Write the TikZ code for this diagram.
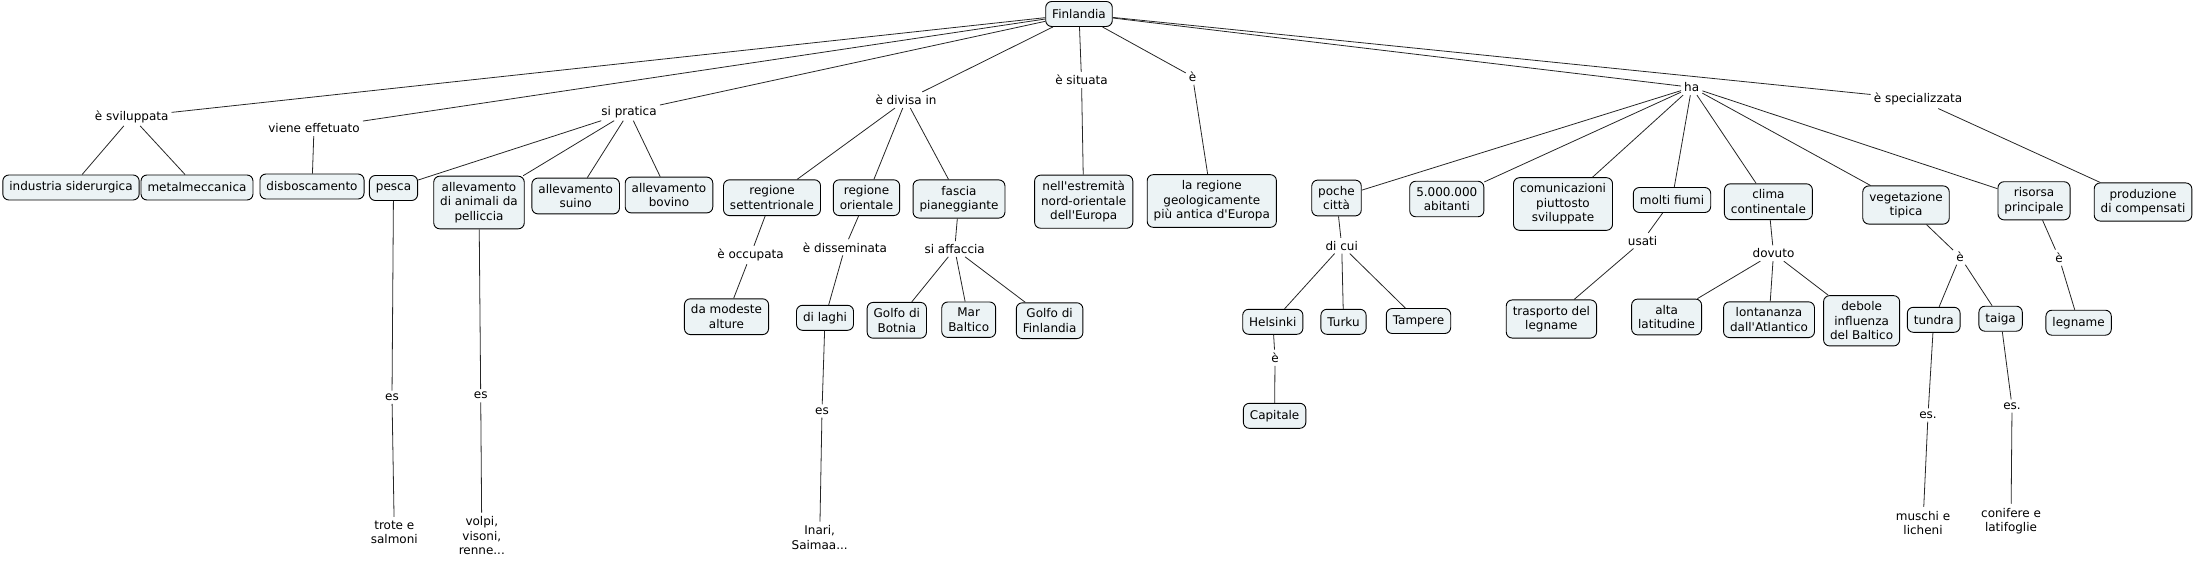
\documentclass[tikz,border=0pt]{standalone}
\usepackage{fontspec}
\setmainfont{DejaVu Sans}
\definecolor{boxfill}{RGB}{236,243,245}

\begin{document}
\begin{tikzpicture}[x=1pt,y=-1pt,
    every node/.style={font=\fontsize{12}{14.5}\selectfont,align=center},
    concept/.style={draw=black,fill=boxfill,rounded corners=6pt,line width=0.9pt,
      inner xsep=6.5pt,inner ysep=6pt,minimum height=25pt},
    plain/.style={inner sep=4pt},
    phrase/.style={inner sep=3pt},
    link/.style={black!85,line width=0.8pt}]
  \useasboundingbox (0,0) rectangle (2194,564);

  % concepts
  \node[concept] (fin) at (1079,14) {Finlandia};
  \node[concept] (indsid) at (71,187.5) {industria siderurgica};
  \node[concept] (metal) at (197,187.5) {metalmeccanica};
  \node[concept] (disbosc) at (312,186.5) {disboscamento};
  \node[concept] (pesca) at (393.5,188) {pesca};
  \node[concept] (pelliccia) at (479,202.5) {allevamento\\di animali da\\pelliccia};
  \node[concept] (suino) at (575.7,196) {allevamento\\suino};
  \node[concept] (bovino) at (669,195) {allevamento\\bovino};
  \node[concept] (regsett) at (772,197.7) {regione\\settentrionale};
  \node[concept] (regor) at (866.5,197.7) {regione\\orientale};
  \node[concept] (fascia) at (959,199) {fascia\\pianeggiante};
  \node[concept] (estrem) at (1083.7,201.7) {nell\textquotesingle estremità\\nord-orientale\\dell\textquotesingle Europa};
  \node[concept] (antica) at (1211.8,201) {la regione\\geologicamente\\più antica d\textquotesingle Europa};
  \node[concept] (citta) at (1336.5,198) {poche\\città};
  \node[concept] (abitanti) at (1446.8,199) {5.000.000\\abitanti};
  \node[concept] (comunic) at (1563,204) {comunicazioni\\piuttosto\\sviluppate};
  \node[concept] (fiumi) at (1672,200) {molti fiumi};
  \node[concept] (clima) at (1768.4,201.7) {clima\\continentale};
  \node[concept] (veget) at (1906,205) {vegetazione\\tipica};
  \node[concept] (risorsa) at (2034,200.8) {risorsa\\principale};
  \node[concept] (compens) at (2143,202) {produzione\\di compensati};
  \node[concept] (alture) at (726.5,316.7) {da modeste\\alture};
  \node[concept] (laghi) at (825,317.8) {di laghi};
  \node[concept] (botnia) at (896.8,320.3) {Golfo di\\Botnia};
  \node[concept] (baltico) at (968.7,319.7) {Mar\\Baltico};
  \node[concept] (golfofin) at (1049.6,320.7) {Golfo di\\Finlandia};
  \node[concept] (helsinki) at (1272.8,321.8) {Helsinki};
  \node[concept] (turku) at (1343.5,321.8) {Turku};
  \node[concept] (tampere) at (1418.5,321) {Tampere};
  \node[concept] (capitale) at (1274.6,415.8) {Capitale};
  \node[concept] (trasporto) at (1551.4,319) {trasporto del\\legname};
  \node[concept] (latitud) at (1666.6,317) {alta\\latitudine};
  \node[concept] (atlant) at (1769,319.7) {lontananza\\dall\textquotesingle Atlantico};
  \node[concept] (debole) at (1861.6,320.8) {debole\\influenza\\del Baltico};
  \node[concept] (tundra) at (1933.7,319.8) {tundra};
  \node[concept] (taiga) at (2000.6,318.7) {taiga};
  \node[concept] (legname) at (2078.6,322.7) {legname};

  % examples without box
  \node[plain] (trote) at (394.3,532.5) {trote e\\salmoni};
  \node[plain] (volpi) at (481.8,536) {volpi,\\visoni,\\renne...};
  \node[plain] (inari) at (819.7,537.7) {Inari,\\Saimaa...};
  \node[plain] (muschi) at (1923,523) {muschi e\\licheni};
  \node[plain] (conifere) at (2011,521) {conifere e\\latifoglie};

  % linking phrases
  \node[phrase] (sviluppata) at (131.7,116.7) {è sviluppata};
  \node[phrase] (effetuato) at (314,128.3) {viene effetuato};
  \node[phrase] (pratica) at (629,111.7) {si pratica};
  \node[phrase] (divisa) at (906,100) {è divisa in};
  \node[phrase] (situata) at (1081.5,80) {è situata};
  \node[phrase] (eantica) at (1192.6,76.7) {è};
  \node[phrase] (ha) at (1691.7,87.3) {ha};
  \node[phrase] (special) at (1918,99.3) {è specializzata};
  \node[phrase] (espesca) at (392,397.3) {es};
  \node[phrase] (espell) at (480.7,395.7) {es};
  \node[phrase] (occupata) at (750.5,255) {è occupata};
  \node[phrase] (dissem) at (845,247.3) {è disseminata};
  \node[phrase] (affaccia) at (954.7,249) {si affaccia};
  \node[phrase] (eslaghi) at (822,411) {es};
  \node[phrase] (dicui) at (1341.7,245.7) {di cui};
  \node[phrase] (ehel) at (1275,357.7) {è};
  \node[phrase] (usati) at (1642.6,240.7) {usati};
  \node[phrase] (dovuto) at (1773.5,253.3) {dovuto};
  \node[phrase] (eveget) at (1960,256.7) {è};
  \node[phrase] (erisorsa) at (2059,257.7) {è};
  \node[phrase] (estundra) at (1928,415) {es.};
  \node[phrase] (estaiga) at (2012,406) {es.};

  % links
  \foreach \p in {sviluppata,effetuato,pratica,divisa,situata,eantica,ha,special}
    \draw[link] (fin) -- (\p);
  \foreach \c in {indsid,metal} \draw[link] (sviluppata) -- (\c);
  \draw[link] (effetuato) -- (disbosc);
  \foreach \c in {pesca,pelliccia,suino,bovino} \draw[link] (pratica) -- (\c);
  \foreach \c in {regsett,regor,fascia} \draw[link] (divisa) -- (\c);
  \draw[link] (situata) -- (estrem);
  \draw[link] (eantica) -- (antica);
  \foreach \c in {citta,abitanti,comunic,fiumi,clima,veget,risorsa} \draw[link] (ha) -- (\c);
  \draw[link] (special) -- (compens);
  \draw[link] (pesca) -- (espesca) -- (trote);
  \draw[link] (pelliccia) -- (espell) -- (volpi);
  \draw[link] (regsett) -- (occupata) -- (alture);
  \draw[link] (regor) -- (dissem) -- (laghi) -- (eslaghi) -- (inari);
  \draw[link] (fascia) -- (affaccia);
  \foreach \c in {botnia,baltico,golfofin} \draw[link] (affaccia) -- (\c);
  \draw[link] (citta) -- (dicui);
  \foreach \c in {helsinki,turku,tampere} \draw[link] (dicui) -- (\c);
  \draw[link] (helsinki) -- (ehel) -- (capitale);
  \draw[link] (fiumi) -- (usati) -- (trasporto);
  \draw[link] (clima) -- (dovuto);
  \foreach \c in {latitud,atlant,debole} \draw[link] (dovuto) -- (\c);
  \draw[link] (veget) -- (eveget);
  \foreach \c in {tundra,taiga} \draw[link] (eveget) -- (\c);
  \draw[link] (tundra) -- (estundra) -- (muschi);
  \draw[link] (taiga) -- (estaiga) -- (conifere);
  \draw[link] (risorsa) -- (erisorsa) -- (legname);
\end{tikzpicture}
\end{document}
